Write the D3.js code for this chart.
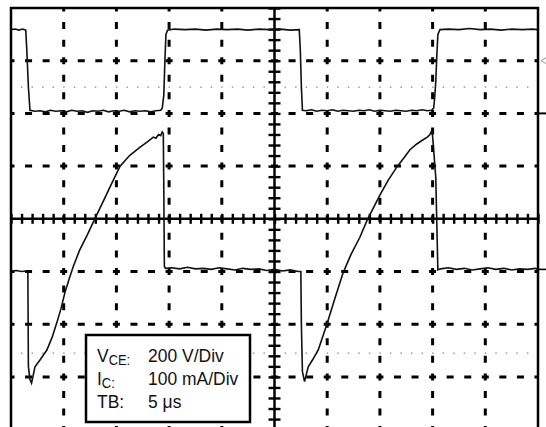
<!DOCTYPE html>
<html lang="en">
<head>
	<meta charset="UTF-8">
	<title>VCE / IC scope</title>
	<style>
		body { margin: 0; background: #fff; }
		svg { display: block; }
	</style>
</head>
<body>
<script src="https://d3js.org/d3.v7.min.js"></script>
<script>
	// canvas
	let width = 546;
	let height = 427;

	// scope screen: 10 x 8 divisions
	let divX = [0, 10];
	let divY = [-4, 4];
	let gridX = [1, 2, 3, 4, 6, 7, 8, 9];
	let gridY = [-3, -2, -1, 1, 2, 3];
	let refLevels = [2.5, -2.55];

	// channel 1: VCE (time in div, level in div)
	let vceTime = [0, 0.08, 0.15, 0.22, 0.28, 0.3, 0.33, 0.36,
		0.45, 0.55, 0.65, 0.75, 0.85, 0.95, 1.05, 1.15, 1.25, 1.35, 1.45, 1.55, 1.65, 1.75, 1.85, 1.95,
		2.05, 2.15, 2.25, 2.35, 2.45, 2.55, 2.65, 2.75, 2.84, 2.87, 2.9, 2.92, 2.94, 2.97,
		3.1, 3.3, 3.5, 3.7, 3.9, 4.1, 4.3, 4.5, 4.7, 4.9, 5.1, 5.3, 5.47, 5.49, 5.51, 5.53,
		5.6, 5.7, 5.8, 5.9, 6.0, 6.1, 6.2, 6.3, 6.4, 6.5, 6.6, 6.7, 6.8, 6.9, 7.0, 7.1, 7.2, 7.3, 7.4,
		7.5, 7.6, 7.7, 7.8, 7.9, 7.98, 8.02, 8.04, 8.06, 8.08, 8.1, 8.14,
		8.3, 8.5, 8.7, 8.9, 9.1, 9.3, 9.5, 9.7, 9.9, 10];
	let vceLevel = [3.59, 3.6, 3.58, 3.6, 3.58, 3.2, 2.5, 2.06,
		2.04, 2.05, 2.03, 2.06, 2.04, 2.05, 2.03, 2.06, 2.04, 2.05, 2.02, 2.05, 2.04, 2.06, 2.03, 2.05,
		2.04, 2.06, 2.03, 2.05, 2.04, 2.05, 2.03, 2.05, 2.06, 2.1, 2.35, 3.0, 3.5, 3.58,
		3.6, 3.59, 3.6, 3.58, 3.6, 3.59, 3.6, 3.58, 3.6, 3.59, 3.6, 3.58, 3.59, 3.2, 2.5, 2.06,
		2.05, 2.07, 2.04, 2.06, 2.05, 2.07, 2.04, 2.06, 2.05, 2.04, 2.06, 2.05, 2.07, 2.04, 2.06, 2.05, 2.04, 2.06, 2.05,
		2.04, 2.06, 2.05, 2.07, 2.05, 2.06, 2.1, 2.3, 2.6, 3.1, 3.5, 3.59,
		3.6, 3.59, 3.61, 3.59, 3.6, 3.58, 3.6, 3.59, 3.6, 3.59];

	// channel 2: IC
	let icTime = [0, 0.1, 0.2, 0.3, 0.32, 0.33, 0.36, 0.39,
		0.455, 0.55, 0.68, 0.78, 0.87, 0.95, 1.02, 1.1, 1.18, 1.3, 1.45, 1.59, 1.75, 1.9, 2.07,
		2.25, 2.45, 2.6, 2.7, 2.75, 2.8, 2.84, 2.87, 2.89, 2.9, 2.91, 2.93,
		3.05, 3.2, 3.35, 3.5, 3.65, 3.8, 3.95, 4.1, 4.25, 4.4, 4.55, 4.7, 4.85, 5.0, 5.15, 5.3, 5.45, 5.5,
		5.51, 5.53, 5.57, 5.64, 5.72, 5.83, 6.0, 6.15, 6.3, 6.45, 6.62, 6.76, 7.0, 7.15, 7.32,
		7.45, 7.57, 7.7, 7.82, 7.9, 7.95, 7.99, 8.01, 8.06, 8.1, 8.15,
		8.3, 8.45, 8.6, 8.75, 8.9, 9.05, 9.2, 9.35, 9.5, 9.65, 9.8, 9.95, 10];
	let icLevel = [-1.0, -0.98, -1.0, -0.99, -1.02, -2.8, -3.05, -3.12,
		-2.81, -2.68, -2.49, -2.25, -1.97, -1.7, -1.41, -1.15, -0.91, -0.6, -0.3, 0, 0.33, 0.65, 1.0,
		1.2, 1.36, 1.47, 1.55, 1.53, 1.6, 1.58, 1.65, 1.62, 0.5, -0.9, -0.94,
		-0.93, -0.95, -0.92, -0.95, -0.94, -0.96, -0.93, -0.95, -0.97, -0.94, -0.96, -0.95, -0.98, -0.96, -0.99, -0.97, -1.0, -1.0,
		-2.0, -2.9, -3.09, -2.81, -2.68, -2.49, -1.98, -1.5, -1.03, -0.68, -0.35, -0.02, 0.45, 0.72, 0.98,
		1.15, 1.31, 1.42, 1.5, 1.55, 1.6, 1.69, 1.44, 0.79, -0.97, -0.95,
		-0.93, -0.96, -0.94, -0.97, -0.95, -0.93, -0.96, -0.94, -0.97, -0.95, -0.96, -0.94, -0.96];

	// legend
	let legendNames = ['V', 'I', 'TB'];
	let legendSubs = ['CE:', 'C:', ''];
	let legendValues = ['200 V/Div', '100 mA/Div', '5 \u03bcs'];

	let x = d3.scaleLinear().domain(divX).range([11, 538]);
	let y = d3.scaleLinear().domain(divY).range([429.6, 8]);
	let period = (x(1) - x(0)) / 3;

	let svg = d3.select('body')
			.append('svg')
			.attr('width', width)
			.attr('height', height);

	// dashed division lines
	svg.append('g')
			.selectAll('line')
			.data(gridX)
			.enter()
			.append('line')
			.attr('x1', d => x(d)).attr('x2', d => x(d))
			.attr('y1', y(4)).attr('y2', y(-4))
			.attr('stroke', '#000')
			.attr('stroke-width', 3)
			.attr('stroke-dasharray', '7 ' + (period - 7))
			.attr('stroke-dashoffset', 3.5);

	svg.append('g')
			.selectAll('line')
			.data(gridY)
			.enter()
			.append('line')
			.attr('x1', x(0)).attr('x2', x(10))
			.attr('y1', d => y(d)).attr('y2', d => y(d))
			.attr('stroke', '#000')
			.attr('stroke-width', 3)
			.attr('stroke-dasharray', '7 ' + (period - 7))
			.attr('stroke-dashoffset', 3.5);

	// dotted reference levels
	svg.append('g')
			.selectAll('line')
			.data(refLevels)
			.enter()
			.append('line')
			.attr('x1', x(0) + 10).attr('x2', x(10) + 3)
			.attr('y1', d => y(d)).attr('y2', d => y(d))
			.attr('stroke', '#8a8a8a')
			.attr('stroke-width', 1.2)
			.attr('stroke-dasharray', '1.5 ' + (x(0.2) - x(0) - 1.5));

	// centre axes with minor ticks
	let hAxis = d3.axisBottom(x).ticks(50).tickSize(10).tickFormat('');
	let hg = svg.append('g')
			.attr('transform', 'translate(0,' + (y(0) - 5) + ')')
			.call(hAxis);
	hg.select('.domain').remove();
	hg.selectAll('line').attr('stroke-width', 2.4);

	let vAxis = d3.axisRight(y).ticks(40).tickSize(12).tickFormat('');
	let vg = svg.append('g')
			.attr('transform', 'translate(' + (x(5) - 6) + ',0)')
			.call(vAxis);
	vg.select('.domain').remove();
	vg.selectAll('line').attr('stroke-width', 2.4);

	svg.append('line')
			.attr('x1', x(0)).attr('x2', x(10))
			.attr('y1', y(0)).attr('y2', y(0))
			.attr('stroke', '#000').attr('stroke-width', 2.5);
	svg.append('line')
			.attr('x1', x(5)).attr('x2', x(5))
			.attr('y1', y(4)).attr('y2', y(-4))
			.attr('stroke', '#000').attr('stroke-width', 2.5);

	// traces
	let trace = d3.line()
			.x(d => x(d[0]))
			.y(d => y(d[1]));

	svg.append('path')
			.attr('d', trace(d3.zip(vceTime, vceLevel)))
			.attr('fill', 'none')
			.attr('stroke', '#111')
			.attr('stroke-width', 1.6);

	svg.append('path')
			.attr('d', trace(d3.zip(icTime, icLevel)))
			.attr('fill', 'none')
			.attr('stroke', '#111')
			.attr('stroke-width', 1.6);

	// frame
	svg.append('rect')
			.attr('x', x(0)).attr('y', y(4))
			.attr('width', x(10) - x(0))
			.attr('height', y(-4) - y(4))
			.attr('fill', 'none')
			.attr('stroke', '#000')
			.attr('stroke-width', 2.5);

	// channel markers right of the screen
	svg.append('path')
			.attr('d', 'M' + (x(10) + 8) + ',' + (y(3) - 3) + 'L' + (x(10) + 3) + ',' + y(3) + 'L' + (x(10) + 8) + ',' + (y(3) + 3))
			.attr('fill', 'none').attr('stroke', '#999').attr('stroke-width', 1);
	svg.append('line')
			.attr('x1', x(10)).attr('x2', width)
			.attr('y1', y(2)).attr('y2', y(2))
			.attr('stroke', '#000').attr('stroke-width', 2);
	svg.append('line')
			.attr('x1', x(10)).attr('x2', width)
			.attr('y1', y(icLevel[icLevel.length - 1])).attr('y2', y(icLevel[icLevel.length - 1]))
			.attr('stroke', '#000').attr('stroke-width', 1.6);

	// legend box
	svg.append('rect')
			.attr('x', 86).attr('y', 335)
			.attr('width', 164).attr('height', 87)
			.attr('fill', '#fff')
			.attr('stroke', '#000')
			.attr('stroke-width', 2.5);

	let sx = 0.92;
	let rows = svg.append('g')
			.selectAll('g')
			.data(legendNames)
			.enter()
			.append('g')
			.attr('transform', (d, i) => 'translate(0,' + (362 + i * 23) + ') scale(' + sx + ',1)')
			.attr('font-family', 'Liberation Sans, Arial, sans-serif')
			.attr('font-size', 19)
			.attr('fill', '#111');

	let names = rows.append('text')
			.attr('x', 97 / sx)
			.text(d => d);
	names.append('tspan')
			.attr('dy', 2.5)
			.attr('font-size', 14)
			.text((d, i) => legendSubs[i]);
	rows.filter((d, i) => legendSubs[i] === '')
			.select('text')
			.text(d => d + ':');

	rows.append('text')
			.attr('x', 148 / sx)
			.text((d, i) => legendValues[i]);
</script>
</body>
</html>
